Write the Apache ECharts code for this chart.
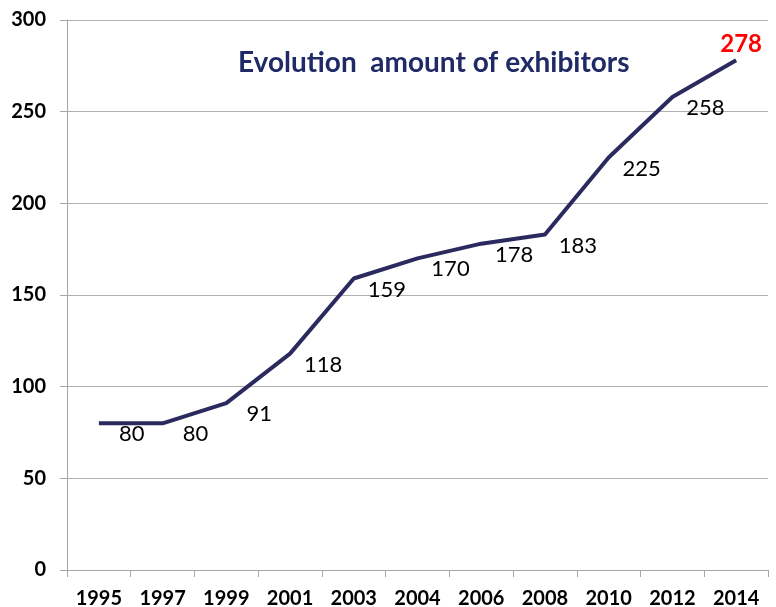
<!DOCTYPE html>
<html>
<head>
<meta charset="utf-8">
<script src="https://cdn.jsdelivr.net/npm/echarts@6/dist/echarts.min.js"></script>
<style>
  html, body { margin: 0; padding: 0; background: #fff; }
  #chart { width: 776px; height: 607px; }
</style>
</head>
<body>
<div id="chart"></div>
<script>
// years on the x axis and number of exhibitors
const years = ['1995', '1997', '1999', '2001', '2003', '2004', '2006', '2008', '2010', '2012', '2014']
const exhibitors = [80, 80, 91, 118, 159, 170, 178, 183, 225, 258, 278]
const yTicks = [0, 50, 100, 150, 200, 250, 300]

const chart = echarts.init(document.getElementById('chart'))
const font = 'Lato, "Open Sans", sans-serif'
const last = exhibitors.length - 1

chart.setOption({
  animation: false,
  title: {
    text: 'Evolution  amount of exhibitors',
    left: 233,
    top: 44,
    textStyle: { fontFamily: font, fontSize: 28, fontWeight: 'bold', color: '#1f2a66' }
  },
  grid: { left: 67, right: 8, top: 20, bottom: 37, containLabel: false, outerBoundsMode: 'none' },
  xAxis: {
    type: 'category',
    data: years,
    boundaryGap: true,
    axisLine: { lineStyle: { color: '#a6a6a6', width: 1 } },
    axisTick: { show: true, length: 7, alignWithLabel: false, lineStyle: { color: '#a6a6a6' } },
    axisLabel: { margin: 19, fontFamily: font, fontSize: 20, fontWeight: 'bold', color: '#000' }
  },
  yAxis: {
    type: 'value',
    min: yTicks[0],
    max: yTicks[yTicks.length - 1],
    interval: 50,
    axisLine: { show: true, lineStyle: { color: '#a6a6a6', width: 1 } },
    axisTick: { show: true, length: 7, inside: false, lineStyle: { color: '#a6a6a6' } },
    splitLine: { lineStyle: { color: '#b0b0b0', width: 1 } },
    axisLabel: { margin: 21, fontFamily: font, fontSize: 20, fontWeight: 'bold', color: '#000' }
  },
  series: [{
    type: 'line',
    data: exhibitors.map((v, i) => i === last ? {
      value: v,
      label: { offset: [5, -16], color: '#ff0000', fontWeight: 'bold', fontSize: 24 }
    } : v),
    symbol: 'circle',
    symbolSize: 1,
    showSymbol: true,
    itemStyle: { color: 'rgba(0,0,0,0)' },
    lineStyle: { color: '#2b2a5e', width: 4 },
    label: {
      show: true,
      position: 'inside',
      offset: [33, 11],
      fontFamily: font,
      fontSize: 22,
      color: '#000'
    }
  }]
})
</script>
</body>
</html>
